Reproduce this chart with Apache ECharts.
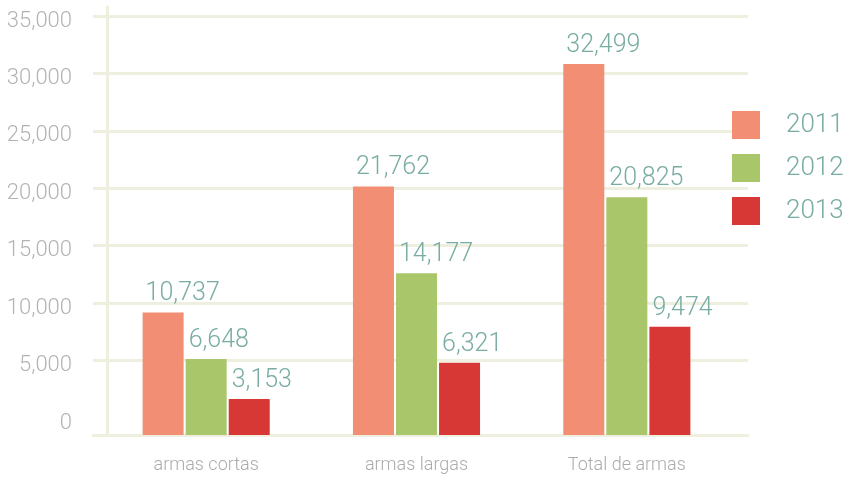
<!DOCTYPE html>
<html>
<head>
<meta charset="utf-8">
<script src="https://cdn.jsdelivr.net/npm/echarts@6/dist/echarts.min.js"></script>
<style>
  html, body { margin: 0; padding: 0; background: #fff; }
  #chart { width: 845px; height: 477px; }
</style>
</head>
<body>
<div id="chart"></div>
<script>
var categories = ['armas cortas', 'armas largas', 'Total de armas'];
var years = ['2011', '2012', '2013'];
var v2011 = [10737, 21762, 32499];
var v2012 = [6648, 14177, 20825];
var v2013 = [3153, 6321, 9474];
var colors = ['#f28e73', '#a9c66b', '#d73835'];

var lineColor = '#efefe0';
var tealText = '#79aca3';
var font = 'Roboto';

function fmt(p) {
    return p.value.toLocaleString('en-US');
}

function barSeries(name, data, color) {
    return {
        name: name,
        type: 'bar',
        xAxisIndex: 1,
        yAxisIndex: 1,
        data: data,
        barWidth: 41,
        barGap: '5%',
        itemStyle: { color: color },
        label: {
            show: true,
            position: [3, -6],
            align: 'left',
            verticalAlign: 'bottom',
            formatter: fmt,
            color: tealText,
            fontFamily: font,
            fontWeight: 300,
            fontSize: 25
        }
    };
}

var chart = echarts.init(document.getElementById('chart'));
var option = {
    animation: false,
    color: colors,
    legend: {
        data: years,
        orient: 'vertical',
        left: 732,
        top: 111,
        padding: 0,
        itemWidth: 28,
        itemHeight: 28,
        itemGap: 15,
        icon: 'rect',
        textStyle: {
            color: tealText,
            fontFamily: font,
            fontWeight: 300,
            fontSize: 26,
            padding: [0, 0, 0, 21]
        }
    },
    grid: [
        // ticks and grid lines
        { left: 93, right: 97, top: 16, bottom: 59 },
        // bars
        { left: 101, right: 113, top: 7, bottom: 42 },
        // axis lines
        { left: 93, right: 97, top: 7, bottom: 42 }
    ],
    xAxis: [
        { gridIndex: 0, type: 'value', show: false },
        {
            gridIndex: 1,
            type: 'category',
            data: categories,
            axisLine: { show: false },
            axisTick: { show: false },
            axisLabel: {
                color: '#ababab',
                fontFamily: font,
                fontWeight: 300,
                fontSize: 18,
                margin: 21
            }
        },
        {
            gridIndex: 2,
            type: 'value',
            axisLine: { show: true, onZero: false, lineStyle: { color: lineColor, width: 3 } },
            axisTick: { show: false },
            axisLabel: { show: false },
            splitLine: { show: false }
        }
    ],
    yAxis: [
        {
            gridIndex: 0,
            type: 'value',
            min: 0,
            max: 35000,
            interval: 5000,
            axisLine: { show: false },
            axisTick: { show: false },
            axisLabel: {
                margin: 21,
                verticalAlign: 'top',
                lineHeight: 10,
                color: '#b3b3b3',
                fontFamily: font,
                fontWeight: 300,
                fontSize: 22,
                formatter: function (v) { return v.toLocaleString('en-US'); }
            },
            splitLine: { show: true, showMinLine: false, lineStyle: { color: lineColor, width: 3 } }
        },
        {
            gridIndex: 1,
            type: 'value',
            min: 0,
            max: 37500,
            show: false
        },
        {
            gridIndex: 2,
            type: 'value',
            offset: -14,
            axisLine: { show: true, onZero: false, lineStyle: { color: lineColor, width: 3 } },
            axisTick: { show: false },
            axisLabel: { show: false },
            splitLine: { show: false }
        }
    ],
    series: [
        barSeries(years[0], v2011, colors[0]),
        barSeries(years[1], v2012, colors[1]),
        barSeries(years[2], v2013, colors[2])
    ]
};
chart.setOption(option);
window.onresize = function () {
    chart.resize();
};
</script>
</body>
</html>
